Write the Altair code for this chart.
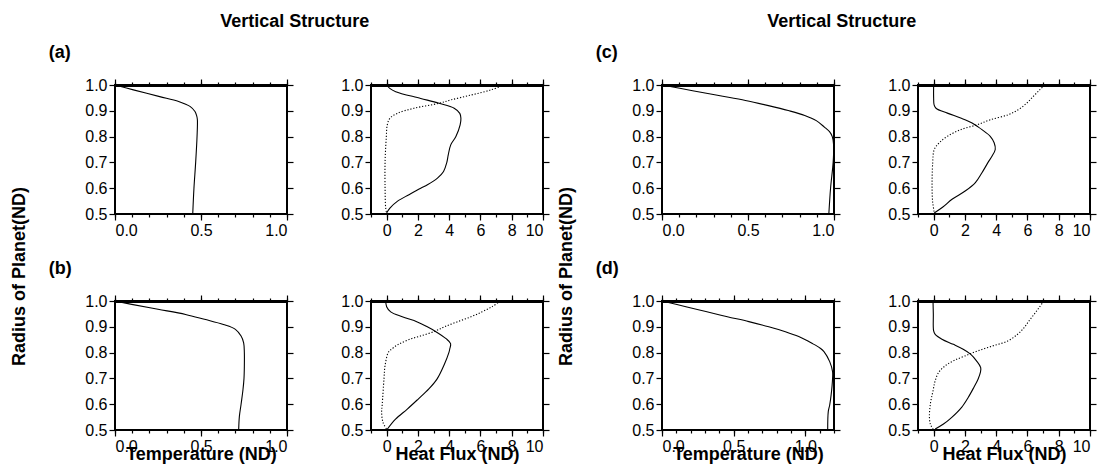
import altair as alt
import pandas as pd

FONT = "Liberation Sans"

# ---- axis tick values ----
RADIUS_TICKS = [0.5, 0.6, 0.7, 0.8, 0.9, 1.0]
TEMP_MAJOR = [0.0, 0.5, 1.0]
TEMP_MINOR = [0.0, 0.1, 0.2, 0.3, 0.4, 0.5, 0.6, 0.7, 0.8, 0.9, 1.0]
TEMP_MINOR_D = [0.0, 0.1, 0.2, 0.3, 0.4, 0.5, 0.6, 0.7, 0.8, 0.9, 1.0, 1.1, 1.2]
FLUX_MAJOR = [0, 2, 4, 6, 8, 10]
FLUX_MINOR = [-1, 0, 1, 2, 3, 4, 5, 6, 7, 8, 9, 10]

# ---- panel (a) ----
A_T_R = [1.0, 0.981, 0.955, 0.936, 0.917, 0.897, 0.88, 0.865, 0.8, 0.7, 0.6, 0.5]
A_T_X = [0.0, 0.107, 0.26, 0.37, 0.436, 0.465, 0.475, 0.479, 0.477, 0.469, 0.459, 0.452]
A_FS_R = [1.0, 0.987, 0.974, 0.948, 0.929, 0.91, 0.89, 0.871, 0.845, 0.8, 0.768, 0.729, 0.7,
          0.665, 0.639, 0.613, 0.6, 0.575, 0.549, 0.523, 0.504]
A_FS_X = [0.0, 0.2, 0.58, 2.18, 3.35, 4.32, 4.68, 4.75, 4.7, 4.43, 4.1, 3.94, 3.85,
          3.64, 3.25, 2.61, 2.18, 1.43, 0.68, 0.21, 0.0]
A_FD_R = [1.0, 0.981, 0.961, 0.942, 0.929, 0.91, 0.89, 0.871, 0.845, 0.8, 0.7, 0.6, 0.523, 0.504]
A_FD_X = [7.53, 6.67, 5.39, 4.1, 3.35, 1.75, 0.68, 0.21, 0.04, -0.02, -0.1, -0.1, -0.06, 0.0]

# ---- panel (b) ----
B_T_R = [1.0, 0.987, 0.968, 0.948, 0.929, 0.909, 0.89, 0.864, 0.838, 0.8, 0.747, 0.7, 0.656, 0.6, 0.552, 0.5]
B_T_X = [0.0, 0.097, 0.25, 0.41, 0.52, 0.63, 0.70, 0.733, 0.748, 0.752, 0.752, 0.75, 0.744, 0.733, 0.723, 0.719]
B_FS_R = [1.0, 0.978, 0.958, 0.939, 0.919, 0.9, 0.883, 0.854, 0.835, 0.815, 0.8, 0.75, 0.698,
          0.659, 0.62, 0.581, 0.542, 0.503]
B_FS_X = [-0.06, 0.0, 0.26, 1.0, 1.96, 2.6, 3.1, 3.8, 4.09, 4.04, 3.98, 3.66, 3.23,
          2.70, 2.02, 1.32, 0.57, 0.04]
B_FD_R = [1.0, 0.978, 0.958, 0.939, 0.919, 0.9, 0.883, 0.865, 0.85, 0.83, 0.81, 0.8, 0.75,
          0.698, 0.6, 0.568, 0.529, 0.503]
B_FD_X = [7.28, 6.74, 6.1, 5.4, 4.5, 3.7, 3.1, 2.2, 1.4, 0.7, 0.25, 0.1, -0.1,
          -0.17, -0.28, -0.32, -0.23, 0.0]

# ---- panel (c) ----
C_T_R = [1.0, 0.978, 0.959, 0.94, 0.92, 0.901, 0.882, 0.862, 0.837, 0.818, 0.8, 0.767, 0.7, 0.6, 0.5]
C_T_X = [0.0, 0.178, 0.33, 0.485, 0.619, 0.734, 0.83, 0.897, 0.944, 0.975, 0.99, 0.998, 0.995, 0.98, 0.97]
C_FS_R = [1.0, 0.95, 0.923, 0.91, 0.891, 0.872, 0.853, 0.84, 0.827, 0.801, 0.776, 0.75, 0.724,
          0.699, 0.66, 0.622, 0.59, 0.558, 0.526, 0.504]
C_FS_X = [0.0, 0.0, 0.03, 0.15, 0.88, 1.73, 2.46, 2.78, 3.09, 3.62, 3.87, 3.94, 3.73,
          3.47, 3.09, 2.67, 2.04, 1.2, 0.57, 0.04]
C_FD_R = [1.0, 0.981, 0.955, 0.929, 0.904, 0.885, 0.865, 0.846, 0.827, 0.801, 0.776, 0.75,
          0.699, 0.6, 0.545, 0.506]
C_FD_X = [7.09, 6.78, 6.36, 5.94, 5.41, 4.78, 3.62, 2.78, 1.73, 0.88, 0.36, 0.04,
          -0.06, -0.1, -0.06, 0.04]

# ---- panel (d) ----
D_T_R = [1.0, 0.978, 0.959, 0.939, 0.92, 0.9, 0.881, 0.862, 0.836, 0.817, 0.804, 0.765,
         0.726, 0.7, 0.636, 0.597, 0.571, 0.5]
D_T_X = [0.0, 0.167, 0.306, 0.456, 0.606, 0.745, 0.861, 0.954, 1.046, 1.104, 1.13, 1.17,
         1.19, 1.19, 1.18, 1.17, 1.16, 1.156]
D_FS_R = [1.0, 0.95, 0.884, 0.871, 0.852, 0.832, 0.813, 0.794, 0.768, 0.742, 0.723, 0.697,
          0.665, 0.626, 0.588, 0.549, 0.523, 0.504]
D_FS_X = [-0.04, -0.02, 0.0, 0.1, 0.53, 1.26, 1.89, 2.36, 2.74, 3.01, 2.99, 2.84,
          2.57, 2.21, 1.79, 1.16, 0.63, 0.1]
D_FD_R = [1.0, 0.974, 0.948, 0.923, 0.897, 0.871, 0.845, 0.826, 0.807, 0.787, 0.768, 0.749,
          0.723, 0.691, 0.652, 0.601, 0.549, 0.523, 0.504]
D_FD_X = [7.05, 6.74, 6.42, 6.1, 5.79, 5.37, 4.74, 3.79, 2.84, 2.0, 1.26, 0.74,
          0.32, 0.1, -0.04, -0.21, -0.27, -0.21, -0.04]

PW, PH = 172, 129
TFS = 18  # bold title font size
TICK = dict(grid=False, tickColor="black", tickWidth=1.2,
            labelColor="black", labelFont=FONT, labelFontSize=16, labelPadding=2)


def make_df(series):
    rows = []
    for name, rs, xs in series:
        for i, (r, x) in enumerate(zip(rs, xs)):
            rows.append({"series": name, "r": r, "val": x, "i": i})
    return pd.DataFrame(rows)


def panel(series, xdom, major, minor, xfmt, xtitle=None):
    df = make_df(series)
    base = alt.Chart(df)
    xs = alt.Scale(domain=xdom, nice=False, zero=False)
    ys = alt.Scale(domain=[0.5, 1.0], nice=False, zero=False)
    if xtitle:
        main_x = alt.Axis(orient="bottom", values=major, format=xfmt, tickSize=6,
                          title=xtitle, titleFont=FONT, titleFontSize=TFS,
                          titleFontWeight="bold", titleColor="black",
                          titlePadding=-9, domain=False, **TICK)
    else:
        main_x = alt.Axis(orient="bottom", values=major, format=xfmt, tickSize=6,
                          title=None, domain=False, **TICK)
    main_y = alt.Axis(orient="left", values=RADIUS_TICKS, format=".1f", tickSize=6,
                      title=None, domain=False, **TICK)
    layers = [
        base.transform_filter(alt.datum.series == "main").mark_line(
            color="black", strokeWidth=1.1, interpolate="catmull-rom"
        ).encode(
            x=alt.X("val:Q", scale=xs, axis=main_x),
            y=alt.Y("r:Q", scale=ys, axis=main_y),
            order="i:Q",
        )
    ]
    if any(s[0] == "dot" for s in series):
        layers.append(
            base.transform_filter(alt.datum.series == "dot").mark_line(
                color="black", strokeWidth=1.1, strokeDash=[1.2, 1.8],
                interpolate="catmull-rom"
            ).encode(
                x=alt.X("val:Q", scale=xs, axis=None),
                y=alt.Y("r:Q", scale=ys, axis=None),
                order="i:Q",
            )
        )
    # extra axes: minor bottom ticks, top ticks (thick top edge), right ticks
    layers.append(base.mark_point(opacity=0).encode(
        x=alt.X("val:Q", scale=xs, axis=alt.Axis(orient="bottom", values=minor, labels=False,
                                                 tickSize=3, title=None, domain=False, **TICK)),
        y=alt.Y("r:Q", scale=ys, axis=None)))
    layers.append(base.mark_point(opacity=0).encode(
        x=alt.X("val:Q", scale=xs, axis=alt.Axis(orient="top", values=major, labels=False,
                                                 tickSize=6, title=None, domain=True,
                                                 domainColor="black", domainWidth=2.8, **TICK)),
        y=alt.Y("r:Q", scale=ys, axis=alt.Axis(orient="right", values=RADIUS_TICKS,
                                                labels=False, tickSize=6, title=None,
                                                domain=False, **TICK))))
    layers.append(base.mark_point(opacity=0).encode(
        x=alt.X("val:Q", scale=xs, axis=alt.Axis(orient="top", values=minor, labels=False,
                                                 tickSize=3, title=None, domain=False, **TICK)),
        y=alt.Y("r:Q", scale=ys, axis=None)))
    return alt.layer(*layers).resolve_axis(x="independent", y="independent").properties(
        width=PW, height=PH)


def label_title(t):
    return alt.Title(t, anchor="start", dx=-35, offset=14, font=FONT, fontSize=TFS,
                     fontWeight="bold", color="black")


def group(tA, fA, tB, fB, la, lb):
    rowA = alt.hconcat(tA, fA, spacing=44, title=label_title(la))
    rowB = alt.hconcat(tB, fB, spacing=44, title=label_title(lb))
    inner = alt.vconcat(rowA, rowB, spacing=21,
                        title=alt.Title("Vertical Structure", anchor="middle", offset=13, dx=-5,
                                        font=FONT, fontSize=TFS, fontWeight="bold", color="black"))
    return alt.hconcat(inner, title=alt.Title("Radius of Planet(ND)", orient="left",
                                              anchor="middle", offset=20, dx=-38, font=FONT,
                                              fontSize=TFS, fontWeight="bold", color="black"))


pa_t = panel([("main", A_T_R, A_T_X)], [0, 1.0], TEMP_MAJOR, TEMP_MINOR, ".1f")
pa_f = panel([("main", A_FS_R, A_FS_X), ("dot", A_FD_R, A_FD_X)], [-1, 10], FLUX_MAJOR, FLUX_MINOR, "d")
pb_t = panel([("main", B_T_R, B_T_X)], [0, 1.0], TEMP_MAJOR, TEMP_MINOR, ".1f", "Temperature (ND)")
pb_f = panel([("main", B_FS_R, B_FS_X), ("dot", B_FD_R, B_FD_X)], [-1, 10], FLUX_MAJOR, FLUX_MINOR, "d", "Heat Flux (ND)")
pc_t = panel([("main", C_T_R, C_T_X)], [0, 1.0], TEMP_MAJOR, TEMP_MINOR, ".1f")
pc_f = panel([("main", C_FS_R, C_FS_X), ("dot", C_FD_R, C_FD_X)], [-1, 10], FLUX_MAJOR, FLUX_MINOR, "d")
pd_t = panel([("main", D_T_R, D_T_X)], [0, 1.2], TEMP_MAJOR, TEMP_MINOR_D, ".1f", "Temperature (ND)")
pd_f = panel([("main", D_FS_R, D_FS_X), ("dot", D_FD_R, D_FD_X)], [-1, 10], FLUX_MAJOR, FLUX_MINOR, "d", "Heat Flux (ND)")

left = group(pa_t, pa_f, pb_t, pb_f, "(a)", "(b)")
right = group(pc_t, pc_f, pd_t, pd_f, "(c)", "(d)")

chart = alt.hconcat(left, right, spacing=6).properties(
    padding={"left": 2, "top": 5, "right": 0, "bottom": 0},
    background="white",
).configure_view(stroke="black", strokeWidth=2)

chart.save("out.html", embed_options={"renderer": "svg", "actions": False})
